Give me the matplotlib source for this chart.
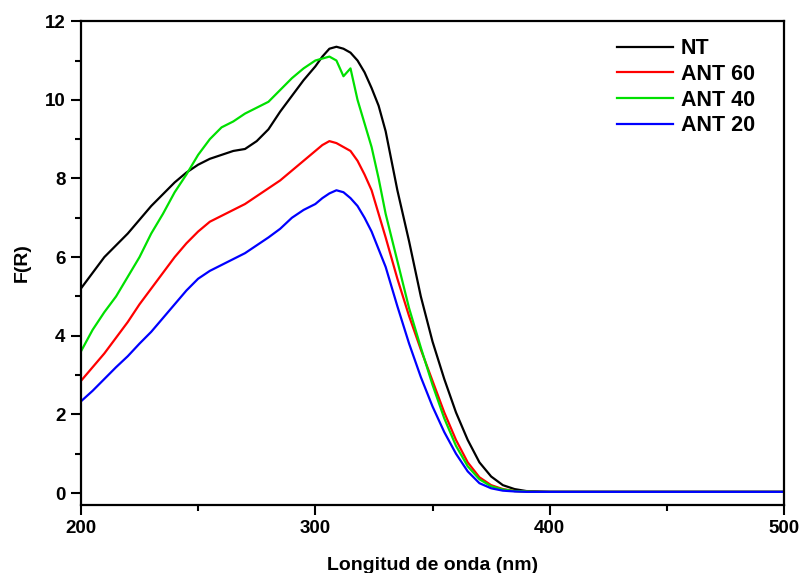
import numpy as np
import matplotlib.pyplot as plt

plt.rcParams['font.family'] = ['Liberation Sans', 'DejaVu Sans']
plt.rcParams['font.weight'] = 'bold'

# longitud de onda (nm)
wl = [200, 205, 210, 215, 220, 225, 230, 235, 240, 245, 250, 255, 260, 265, 270, 275,
      280, 285, 290, 295, 300, 303, 306, 309, 312, 315, 318, 321, 324, 327, 330, 335,
      340, 345, 350, 355, 360, 365, 370, 375, 380, 385, 390, 395, 400, 450, 500]

nt = [5.2, 5.6, 6.0, 6.3, 6.6, 6.95, 7.3, 7.6, 7.9, 8.15, 8.35, 8.5, 8.6, 8.7, 8.75, 8.95,
      9.25, 9.7, 10.1, 10.5, 10.85, 11.1, 11.3, 11.35, 11.3, 11.2, 11.0, 10.7, 10.3, 9.85, 9.2, 7.7,
      6.4, 5.0, 3.85, 2.9, 2.05, 1.35, 0.78, 0.42, 0.2, 0.1, 0.05, 0.04, 0.03, 0.03, 0.03]

ant60 = [2.85, 3.2, 3.55, 3.95, 4.35, 4.8, 5.2, 5.6, 6.0, 6.35, 6.65, 6.9, 7.05, 7.2, 7.35, 7.55,
         7.75, 7.95, 8.2, 8.45, 8.7, 8.85, 8.95, 8.9, 8.8, 8.7, 8.45, 8.1, 7.7, 7.1, 6.5, 5.45,
         4.5, 3.65, 2.85, 2.05, 1.35, 0.78, 0.4, 0.2, 0.1, 0.05, 0.04, 0.03, 0.03, 0.03, 0.03]

ant40 = [3.6, 4.15, 4.6, 5.0, 5.5, 6.0, 6.6, 7.1, 7.65, 8.1, 8.6, 9.0, 9.3, 9.45, 9.65, 9.8,
         9.95, 10.25, 10.55, 10.8, 11.0, 11.05, 11.1, 11.0, 10.6, 10.8, 10.0, 9.4, 8.8, 8.0, 7.1, 5.9,
         4.7, 3.7, 2.75, 1.9, 1.2, 0.68, 0.35, 0.17, 0.09, 0.05, 0.04, 0.03, 0.03, 0.03, 0.03]

ant20 = [2.33, 2.6, 2.9, 3.2, 3.48, 3.8, 4.1, 4.45, 4.8, 5.15, 5.45, 5.65, 5.8, 5.95, 6.1, 6.3,
         6.5, 6.72, 7.0, 7.2, 7.35, 7.5, 7.62, 7.7, 7.65, 7.5, 7.3, 7.0, 6.65, 6.2, 5.75, 4.75,
         3.8, 2.95, 2.2, 1.55, 1.0, 0.55, 0.25, 0.12, 0.06, 0.04, 0.03, 0.03, 0.03, 0.03, 0.03]

labels = ['NT', 'ANT 60', 'ANT 40', 'ANT 20']
colors = ['black', '#ff0000', '#00e000', '#0000ff']

fig = plt.figure(figsize=(8.01, 5.73), dpi=100)
ax = fig.add_axes([0.101, 0.119, 0.878, 0.844])

for y, lab, c in zip([nt, ant60, ant40, ant20], labels, colors):
    ax.plot(wl, y, color=c, lw=1.6, label=lab)

ax.set_xlim(200, 500)
ax.set_ylim(-0.3, 12)
ax.set_xticks([200, 300, 400, 500])
ax.set_xticks([250, 350, 450], minor=True)
ax.set_yticks([0, 2, 4, 6, 8, 10, 12])
ax.set_yticks([1, 3, 5, 7, 9, 11], minor=True)
ax.tick_params(which='both', direction='out', width=1.5, labelsize=13.5)
ax.tick_params(which='major', length=7, pad=4)
ax.tick_params(which='minor', length=4)
for s in ax.spines.values():
    s.set_linewidth(1.6)

ax.set_xlabel('Longitud de onda (nm)', fontsize=14, fontweight='bold', labelpad=14)
ax.set_ylabel('F(R)', fontsize=14, fontweight='bold', labelpad=10)

ax.legend(loc='upper left', bbox_to_anchor=(0.735, 1.005), frameon=False,
          handlelength=2.6, handletextpad=0.36, labelspacing=0.22,
          prop={'weight': 'bold', 'size': 15.5})

fig.savefig('out.png', dpi=100)
